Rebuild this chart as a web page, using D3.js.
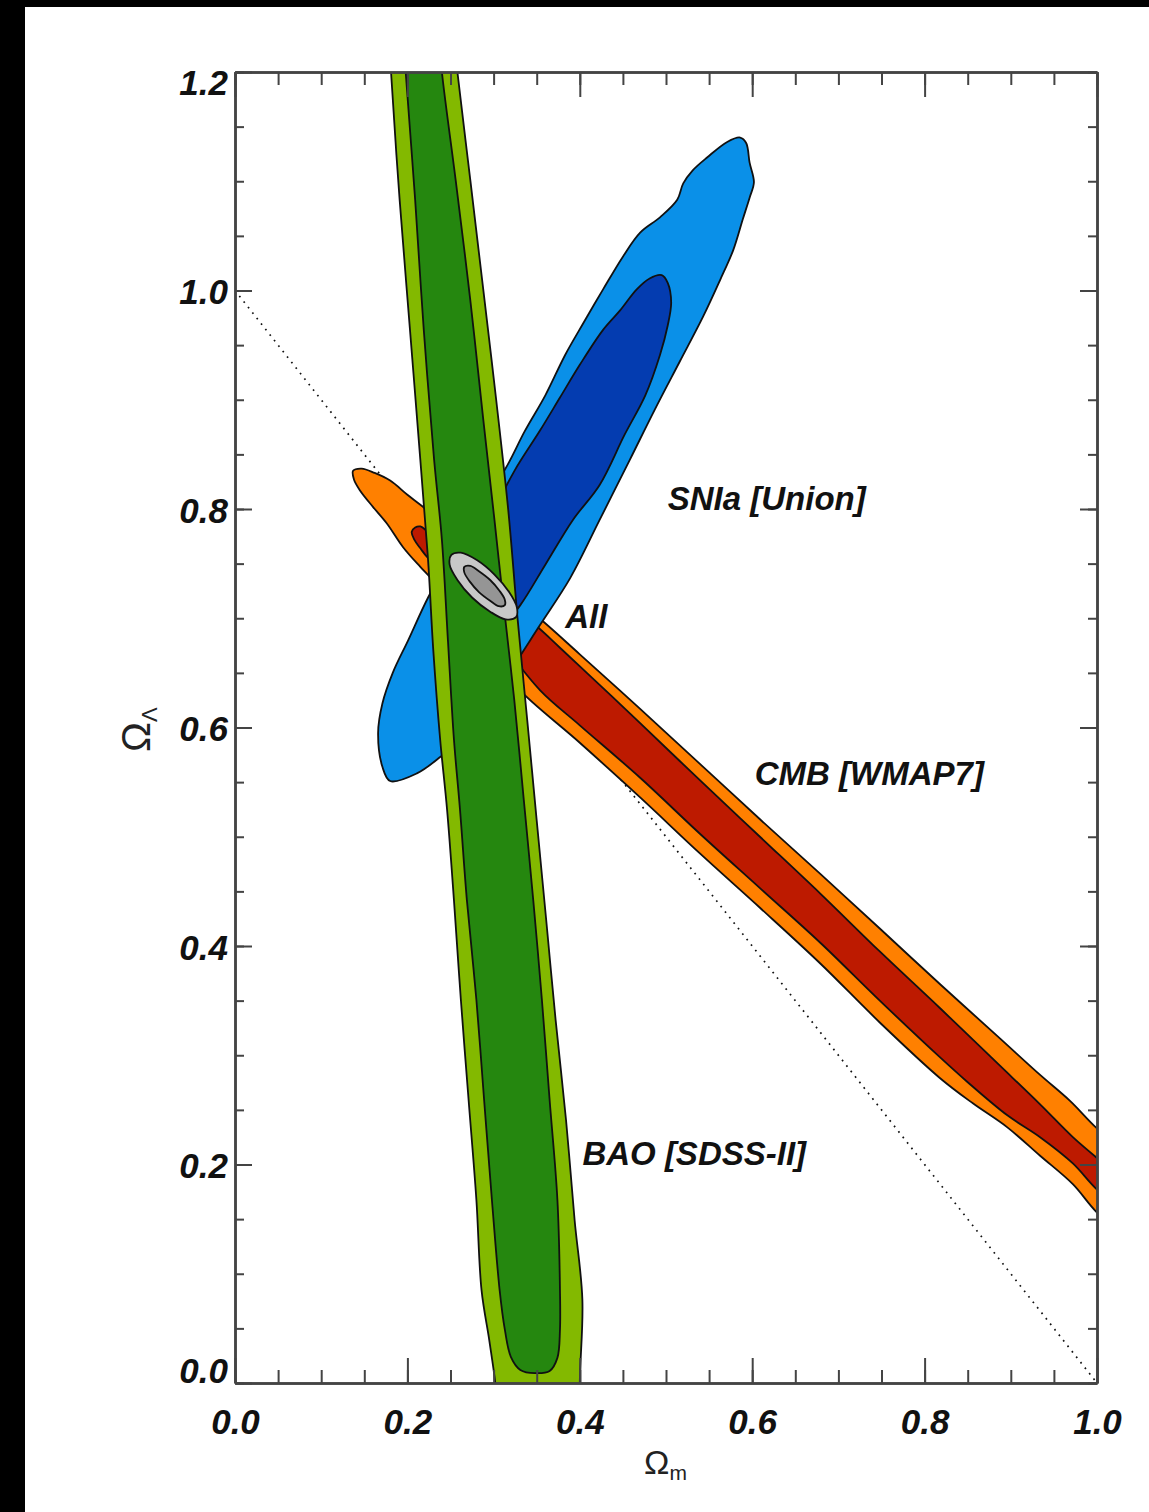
<!DOCTYPE html>
<html><head><meta charset="utf-8">
<script src="https://cdn.jsdelivr.net/npm/d3@7"></script>
<style>html,body{margin:0;padding:0;background:#000;overflow:hidden}svg{display:block}</style>
</head><body>
<svg id="chart" width="1149" height="1512"></svg>
<script>
// ---------------- data ----------------
const xTickValues = [0, 0.2, 0.4, 0.6, 0.8, 1.0];
const xTickLabels = ["0.0", "0.2", "0.4", "0.6", "0.8", "1.0"];
const yTickValues = [0, 0.2, 0.4, 0.6, 0.8, 1.0, 1.2];
const yTickLabels = ["0.0", "0.2", "0.4", "0.6", "0.8", "1.0", "1.2"];
const xMinorTicks = d3.range(0, 21).map(i => i / 20);
const yMinorTicks = d3.range(0, 25).map(i => i / 20);

// flat universe line  Omega_m + Omega_Lambda = 1
const flatLine = [[0, 1], [1, 0]];

// CMB [WMAP7] : outer (95%) and inner (68%) contours [Omega_m, Omega_Lambda]
const cmbOuter = [
  [0.137,0.835],[0.147,0.837],[0.162,0.833],[0.180,0.826],[0.200,0.813],[0.218,0.802],
  [0.244,0.784],[0.273,0.761],[0.302,0.737],[0.328,0.715],[0.350,0.702],[0.400,0.667],
  [0.470,0.617],[0.539,0.567],[0.609,0.516],[0.679,0.466],[0.748,0.416],[0.818,0.365],
  [0.888,0.315],[0.934,0.282],[0.969,0.258],[1.000,0.233],[1.050,0.200],
  [1.050,0.122],[1.000,0.156],[0.972,0.182],[0.934,0.208],[0.896,0.234],[0.856,0.256],
  [0.818,0.279],[0.748,0.330],[0.679,0.384],[0.609,0.435],[0.539,0.485],[0.470,0.536],
  [0.400,0.586],[0.328,0.636],[0.296,0.669],[0.267,0.700],[0.238,0.728],[0.215,0.747],
  [0.195,0.765],[0.176,0.787],[0.160,0.802],[0.145,0.817],[0.138,0.827]
];
const cmbInner = [
  [0.205,0.779],[0.209,0.783],[0.215,0.784],[0.224,0.779],[0.249,0.763],[0.284,0.737],
  [0.319,0.711],[0.348,0.694],[0.377,0.673],[0.423,0.639],[0.470,0.604],[0.539,0.552],
  [0.609,0.500],[0.679,0.448],[0.748,0.395],[0.818,0.343],[0.888,0.290],[0.934,0.255],
  [0.972,0.225],[1.000,0.206],[1.050,0.175],
  [1.050,0.145],[1.000,0.177],[0.972,0.201],[0.934,0.225],[0.896,0.245],[0.849,0.276],
  [0.818,0.298],[0.748,0.350],[0.679,0.403],[0.609,0.453],[0.539,0.503],[0.470,0.554],
  [0.400,0.602],[0.354,0.634],[0.307,0.680],[0.267,0.721],[0.238,0.746],[0.223,0.756],
  [0.215,0.764],[0.208,0.772]
];

// SNIa [Union]
const snOuter = [
  [0.586,1.140],[0.593,1.135],[0.597,1.117],[0.602,1.099],[0.597,1.085],[0.589,1.065],
  [0.578,1.037],[0.563,1.010],[0.543,0.976],[0.516,0.935],[0.487,0.891],[0.458,0.845],
  [0.423,0.790],[0.389,0.737],[0.354,0.694],[0.313,0.644],[0.273,0.598],[0.238,0.573],
  [0.211,0.558],[0.180,0.551],[0.171,0.564],[0.166,0.595],[0.171,0.622],[0.183,0.650],
  [0.201,0.680],[0.224,0.719],[0.255,0.763],[0.284,0.804],[0.313,0.836],[0.336,0.871],
  [0.360,0.904],[0.383,0.941],[0.404,0.970],[0.427,1.001],[0.450,1.031],[0.470,1.053],
  [0.493,1.067],[0.513,1.083],[0.520,1.098],[0.531,1.110],[0.548,1.122],[0.571,1.136]
];
const snInner = [
  [0.495,1.014],[0.502,1.007],[0.506,0.989],[0.502,0.968],[0.493,0.941],[0.476,0.904],
  [0.452,0.868],[0.423,0.822],[0.392,0.790],[0.360,0.749],[0.331,0.712],[0.307,0.689],
  [0.284,0.680],[0.270,0.694],[0.275,0.726],[0.290,0.767],[0.307,0.808],[0.325,0.836],
  [0.354,0.872],[0.377,0.902],[0.400,0.932],[0.427,0.964],[0.447,0.982],[0.466,1.001],
  [0.481,1.011]
];

// BAO [SDSS-II]
const baoOuter = [
  [0.179,1.238],[0.181,1.200],[0.191,1.083],[0.203,0.964],[0.215,0.845],[0.224,0.753],
  [0.230,0.671],[0.238,0.589],[0.246,0.525],[0.254,0.442],[0.262,0.351],[0.271,0.259],
  [0.280,0.168],[0.286,0.085],[0.295,0.039],[0.302,0.000],[0.307,-0.043],
  [0.401,-0.043],[0.400,0.000],[0.403,0.076],[0.394,0.149],[0.384,0.241],[0.372,0.332],
  [0.361,0.424],[0.350,0.515],[0.339,0.607],[0.328,0.698],[0.317,0.799],[0.303,0.900],
  [0.288,1.001],[0.273,1.101],[0.258,1.200],[0.253,1.238]
];
const baoInner = [
  [0.195,1.238],[0.198,1.200],[0.209,1.083],[0.219,0.964],[0.231,0.845],[0.240,0.772],
  [0.247,0.680],[0.254,0.589],[0.261,0.525],[0.269,0.442],[0.280,0.351],[0.289,0.259],
  [0.298,0.168],[0.307,0.085],[0.313,0.049],[0.320,0.024],[0.331,0.012],[0.348,0.009],
  [0.365,0.011],[0.374,0.023],[0.377,0.049],[0.377,0.085],[0.374,0.168],[0.365,0.259],
  [0.356,0.351],[0.346,0.442],[0.335,0.534],[0.324,0.625],[0.311,0.717],[0.301,0.790],
  [0.288,0.882],[0.273,0.991],[0.256,1.101],[0.240,1.200],[0.236,1.238]
];

// All combined
const allOuter = [
  [0.326,0.701],[0.314,0.699],[0.296,0.706],[0.275,0.719],[0.258,0.735],[0.249,0.749],
  [0.251,0.758],[0.262,0.760],[0.281,0.753],[0.301,0.740],[0.318,0.724],[0.327,0.710]
];
const allInner = [
  [0.313,0.712],[0.306,0.711],[0.296,0.716],[0.283,0.724],[0.272,0.734],[0.266,0.742],
  [0.266,0.747],[0.273,0.748],[0.283,0.743],[0.296,0.735],[0.307,0.725],[0.313,0.717]
];

const annotations = [
  {text: "SNIa [Union]", om: 0.502, ol: 0.799},
  {text: "All", om: 0.383, ol: 0.691},
  {text: "CMB [WMAP7]", om: 0.603, ol: 0.547},
  {text: "BAO [SDSS-II]", om: 0.403, ol: 0.1995}
];

// ---------------- drawing ----------------
const W = 1149, H = 1512;
const plot = {left: 235, top: 72, right: 1097, bottom: 1383};
const svg = d3.select("#chart");

svg.append("rect").attr("x", 0).attr("y", 0).attr("width", W).attr("height", H).attr("fill", "#000");
svg.append("rect").attr("x", 25).attr("y", 7).attr("width", W - 25).attr("height", H - 7).attr("fill", "#fff");

const x = d3.scaleLinear().domain([0, 1]).range([plot.left, plot.right]);
const y = d3.scaleLinear().domain([0, 1.2]).range([plot.bottom, plot.top]);

svg.append("defs").append("clipPath").attr("id", "clip")
  .append("rect").attr("x", plot.left).attr("y", plot.top)
  .attr("width", plot.right - plot.left).attr("height", plot.bottom - plot.top);

const g = svg.append("g").attr("clip-path", "url(#clip)");

// dotted flat line
g.append("path").datum(flatLine)
  .attr("d", d3.line().x(d => x(d[0])).y(d => y(d[1])))
  .attr("fill", "none").attr("stroke", "#111").attr("stroke-width", 1.7)
  .attr("stroke-dasharray", "1.7,5.3");

const area = d3.line().x(d => x(d[0])).y(d => y(d[1])).curve(d3.curveCatmullRomClosed.alpha(0.5));

function contour(data, fill) {
  g.append("path").datum(data).attr("d", area)
    .attr("fill", fill).attr("stroke", "#111").attr("stroke-width", 1.8)
    .attr("stroke-linejoin", "round");
}

contour(cmbOuter, "#ff8000");
contour(cmbInner, "#bd1a00");
contour(snOuter, "#0a90e8");
contour(snInner, "#043cb0");
contour(baoOuter, "#83b900");
contour(baoInner, "#25870f");
contour(allOuter, "#c8c8c8");
contour(allInner, "#959595");

// annotations
const font = "'Liberation Sans', Arial, Helvetica, sans-serif";
svg.selectAll("text.ann").data(annotations).enter().append("text")
  .attr("class", "ann")
  .attr("x", d => x(d.om)).attr("y", d => y(d.ol))
  .attr("font-family", font).attr("font-size", 33).attr("font-weight", "bold")
  .attr("font-style", "italic").attr("fill", "#111")
  .text(d => d.text);

// axes
const axisColor = "#444";
function styleAxis(sel) {
  sel.select(".domain").attr("stroke", axisColor).attr("stroke-width", 2.5);
  sel.selectAll(".tick line").attr("stroke", axisColor).attr("stroke-width", 2);
}
const xMajorLen = 25, xMinorLen = 13, yMajorLen = 17, yMinorLen = 9;

// bottom
const gb = svg.append("g").attr("transform", `translate(0,${plot.bottom})`)
  .call(d3.axisBottom(x).tickValues(xMinorTicks).tickSize(-xMinorLen).tickSizeOuter(0).tickFormat(""));
styleAxis(gb);
const gbM = svg.append("g").attr("transform", `translate(0,${plot.bottom})`)
  .call(d3.axisBottom(x).tickValues(xTickValues).tickSize(-xMajorLen).tickSizeOuter(0)
    .tickFormat((d, i) => xTickLabels[i]));
styleAxis(gbM);
gbM.selectAll(".tick text").attr("y", 51).attr("dy", 0)
  .attr("font-family", font).attr("font-size", 35).attr("font-weight", "bold")
  .attr("font-style", "italic").attr("fill", "#111");

// top
const gt = svg.append("g").attr("transform", `translate(0,${plot.top})`)
  .call(d3.axisTop(x).tickValues(xMinorTicks).tickSize(-xMinorLen).tickSizeOuter(0).tickFormat(""));
styleAxis(gt);
const gtM = svg.append("g").attr("transform", `translate(0,${plot.top})`)
  .call(d3.axisTop(x).tickValues(xTickValues).tickSize(-xMajorLen).tickSizeOuter(0).tickFormat(""));
styleAxis(gtM);

// left
const gl = svg.append("g").attr("transform", `translate(${plot.left},0)`)
  .call(d3.axisLeft(y).tickValues(yMinorTicks).tickSize(-yMinorLen).tickSizeOuter(0).tickFormat(""));
styleAxis(gl);
const glM = svg.append("g").attr("transform", `translate(${plot.left},0)`)
  .call(d3.axisLeft(y).tickValues(yTickValues).tickSize(-yMajorLen).tickSizeOuter(0)
    .tickFormat((d, i) => yTickLabels[i]));
styleAxis(glM);
glM.selectAll(".tick text").attr("x", -7).attr("dy", d => d === 1.2 ? 22 : (d === 0 ? -1 : 13))
  .attr("font-family", font).attr("font-size", 35).attr("font-weight", "bold")
  .attr("font-style", "italic").attr("fill", "#111");

// right
const gr = svg.append("g").attr("transform", `translate(${plot.right},0)`)
  .call(d3.axisRight(y).tickValues(yMinorTicks).tickSize(-yMinorLen).tickSizeOuter(0).tickFormat(""));
styleAxis(gr);
const grM = svg.append("g").attr("transform", `translate(${plot.right},0)`)
  .call(d3.axisRight(y).tickValues(yTickValues).tickSize(-yMajorLen).tickSizeOuter(0).tickFormat(""));
styleAxis(grM);

// axis titles
const yt = svg.append("text").attr("transform", "translate(150,752) rotate(-90)")
  .attr("font-family", font).attr("font-size", 40).attr("fill", "#222");
yt.append("tspan").text("Ω");
yt.append("tspan").attr("font-size", 22).attr("dy", 7).text("Λ");

const xt = svg.append("text").attr("x", 644).attr("y", 1474)
  .attr("font-family", font).attr("font-size", 34).attr("fill", "#222");
xt.append("tspan").text("Ω");
xt.append("tspan").attr("font-size", 21).attr("dy", 6).text("m");
</script>
</body></html>
